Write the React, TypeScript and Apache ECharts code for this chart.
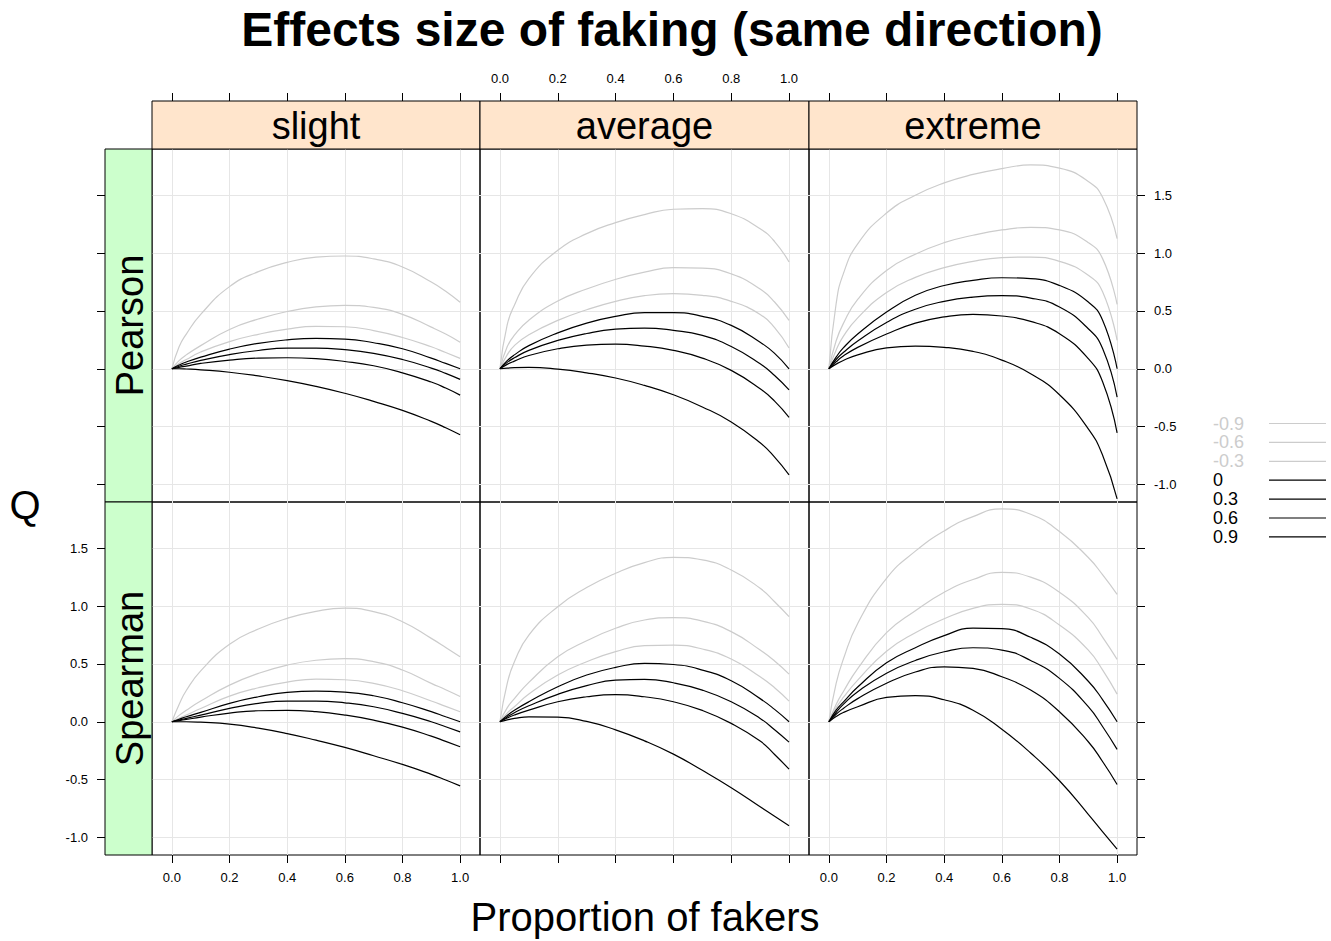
import React, { useEffect, useRef } from "react";
import * as echarts from "echarts";

// ---------------- data ----------------
const proportion = [0, 0.025, 0.05, 0.1, 0.2, 0.3, 0.4, 0.5, 0.6, 0.7, 0.8, 0.9, 0.95, 1];
const correlations = ["-0.9", "-0.6", "-0.3", "0", "0.3", "0.6", "0.9"];
const fakingLevels = ["slight", "average", "extreme"];
const methods = ["Pearson", "Spearman"];
const xTickValues = [0, 0.2, 0.4, 0.6, 0.8, 1.0];
const yTickValues = [-1.0, -0.5, 0, 0.5, 1.0, 1.5];

const pearsonSlight = [
  [0, 0.19, 0.3, 0.47, 0.71, 0.84, 0.92, 0.965, 0.975, 0.95, 0.88, 0.75, 0.67, 0.575],
  [0, 0.07, 0.12, 0.2, 0.34, 0.43, 0.495, 0.535, 0.548, 0.53, 0.47, 0.36, 0.3, 0.23],
  [0, 0.045, 0.08, 0.145, 0.235, 0.298, 0.343, 0.366, 0.363, 0.33, 0.27, 0.19, 0.14, 0.09],
  [0, 0.032, 0.058, 0.1, 0.17, 0.22, 0.25, 0.262, 0.257, 0.225, 0.173, 0.092, 0.046, 0],
  [0, 0.022, 0.04, 0.072, 0.122, 0.158, 0.178, 0.179, 0.165, 0.133, 0.08, 0.006, -0.04, -0.092],
  [0, 0.012, 0.023, 0.046, 0.075, 0.092, 0.095, 0.087, 0.063, 0.026, -0.035, -0.115, -0.167, -0.228],
  [0, 0, -0.002, -0.009, -0.03, -0.062, -0.102, -0.152, -0.212, -0.282, -0.36, -0.455, -0.51, -0.571],
];
const pearsonAverage = [
  [0, 0.38, 0.55, 0.78, 1.024, 1.168, 1.263, 1.333, 1.379, 1.385, 1.34, 1.21, 1.1, 0.923],
  [0, 0.19, 0.29, 0.42, 0.585, 0.69, 0.773, 0.835, 0.875, 0.87, 0.82, 0.69, 0.577, 0.418],
  [0, 0.12, 0.2, 0.294, 0.418, 0.51, 0.583, 0.632, 0.649, 0.635, 0.583, 0.47, 0.355, 0.18],
  [0, 0.07, 0.12, 0.2, 0.31, 0.395, 0.453, 0.485, 0.485, 0.453, 0.375, 0.23, 0.133, 0],
  [0, 0.055, 0.095, 0.159, 0.245, 0.305, 0.342, 0.352, 0.332, 0.288, 0.193, 0.043, -0.058, -0.182],
  [0, 0.038, 0.066, 0.115, 0.173, 0.205, 0.213, 0.196, 0.159, 0.092, -0.014, -0.173, -0.28, -0.42],
  [0, 0.005, 0.01, 0.012, -0.003, -0.035, -0.08, -0.144, -0.225, -0.33, -0.46, -0.64, -0.764, -0.917],
];
const pearsonExtreme = [
  [0, 0.56, 0.82, 1.08, 1.346, 1.5, 1.607, 1.68, 1.73, 1.762, 1.735, 1.62, 1.48, 1.125],
  [0, 0.24, 0.39, 0.6, 0.85, 0.99, 1.09, 1.154, 1.2, 1.223, 1.2, 1.09, 0.95, 0.557],
  [0, 0.16, 0.28, 0.44, 0.66, 0.79, 0.874, 0.929, 0.96, 0.966, 0.929, 0.808, 0.663, 0.245],
  [0, 0.1, 0.18, 0.3, 0.49, 0.635, 0.72, 0.764, 0.787, 0.779, 0.72, 0.577, 0.418, 0],
  [0, 0.08, 0.14, 0.24, 0.4, 0.515, 0.583, 0.62, 0.632, 0.611, 0.534, 0.346, 0.173, -0.245],
  [0, 0.06, 0.11, 0.185, 0.3, 0.395, 0.448, 0.47, 0.456, 0.41, 0.303, 0.087, -0.115, -0.554],
  [0, 0.04, 0.072, 0.12, 0.18, 0.195, 0.185, 0.15, 0.075, -0.043, -0.225, -0.519, -0.75, -1.125],
];
const spearmanSlight = [
  [0, 0.15, 0.27, 0.44, 0.67, 0.802, 0.894, 0.955, 0.982, 0.952, 0.865, 0.721, 0.643, 0.562],
  [0, 0.055, 0.1, 0.179, 0.317, 0.418, 0.49, 0.532, 0.545, 0.52, 0.447, 0.332, 0.277, 0.219],
  [0, 0.03, 0.058, 0.115, 0.222, 0.294, 0.343, 0.369, 0.363, 0.332, 0.268, 0.179, 0.133, 0.087],
  [0, 0.022, 0.043, 0.081, 0.159, 0.216, 0.254, 0.265, 0.257, 0.225, 0.164, 0.087, 0.043, 0],
  [0, 0.015, 0.029, 0.058, 0.115, 0.159, 0.179, 0.179, 0.164, 0.13, 0.072, 0, -0.043, -0.087],
  [0, 0.01, 0.02, 0.04, 0.075, 0.095, 0.098, 0.087, 0.058, 0.014, -0.046, -0.124, -0.17, -0.216],
  [0, 0, 0, -0.004, -0.02, -0.055, -0.102, -0.159, -0.222, -0.294, -0.369, -0.455, -0.503, -0.554],
];
const spearmanAverage = [
  [0, 0.33, 0.519, 0.75, 0.995, 1.16, 1.284, 1.376, 1.422, 1.4, 1.312, 1.154, 1.038, 0.909],
  [0, 0.12, 0.2, 0.34, 0.562, 0.7, 0.808, 0.88, 0.9, 0.87, 0.779, 0.62, 0.525, 0.412],
  [0, 0.075, 0.13, 0.24, 0.404, 0.519, 0.606, 0.658, 0.663, 0.629, 0.542, 0.389, 0.294, 0.179],
  [0, 0.055, 0.1, 0.173, 0.303, 0.404, 0.47, 0.505, 0.495, 0.447, 0.355, 0.2, 0.107, 0],
  [0, 0.042, 0.078, 0.138, 0.237, 0.312, 0.36, 0.366, 0.337, 0.274, 0.173, 0.029, -0.069, -0.176],
  [0, 0.032, 0.058, 0.1, 0.173, 0.216, 0.234, 0.216, 0.173, 0.098, -0.014, -0.167, -0.283, -0.41],
  [0, 0.016, 0.029, 0.043, 0.04, 0.003, -0.07, -0.165, -0.28, -0.42, -0.57, -0.735, -0.818, -0.9],
];
const spearmanExtreme = [
  [0, 0.33, 0.54, 0.85, 1.24, 1.475, 1.65, 1.774, 1.84, 1.794, 1.645, 1.42, 1.27, 1.102],
  [0, 0.15, 0.26, 0.46, 0.77, 0.96, 1.12, 1.23, 1.292, 1.25, 1.12, 0.9, 0.73, 0.539],
  [0, 0.12, 0.21, 0.36, 0.61, 0.77, 0.89, 0.98, 1.015, 0.975, 0.836, 0.62, 0.447, 0.239],
  [0, 0.1, 0.17, 0.3, 0.51, 0.64, 0.745, 0.81, 0.805, 0.73, 0.585, 0.35, 0.19, 0],
  [0, 0.08, 0.15, 0.26, 0.42, 0.53, 0.605, 0.64, 0.62, 0.53, 0.375, 0.13, -0.043, -0.239],
  [0, 0.065, 0.115, 0.2, 0.333, 0.43, 0.475, 0.461, 0.389, 0.274, 0.087, -0.173, -0.346, -0.542],
  [0, 0.045, 0.08, 0.13, 0.21, 0.226, 0.19, 0.1, -0.065, -0.27, -0.51, -0.8, -0.952, -1.102],
];

const panelData = [
  [pearsonSlight, pearsonAverage, pearsonExtreme],
  [spearmanSlight, spearmanAverage, spearmanExtreme],
];

// ---------------- layout ----------------
const FONT = "'Liberation Sans', Arial, Helvetica, sans-serif";
const COL_X = [152, 480, 809];
const COL_W = [328, 329, 328];
const ROW_Y = [149, 502];
const ROW_H = 353;
const STRIP_H = 48;
const STRIP_W = 47;
const X_MIN = -0.069;
const X_MAX = 1.069;
const Y_MIN = -1.152;
const Y_MAX = 1.9;
const GREY = "#cccccc";
const BLACK = "#000000";

const seriesColor = (name: string) => (name.startsWith("-") ? GREY : BLACK);

function buildOption() {
  const grids: any[] = [];
  const xAxes: any[] = [];
  const yAxes: any[] = [];
  const series: any[] = [];
  const graphics: any[] = [];

  methods.forEach((method, r) => {
    fakingLevels.forEach((level, c) => {
      const idx = r * 3 + c;
      grids.push({
        left: COL_X[c],
        top: ROW_Y[r],
        width: COL_W[c],
        height: ROW_H,
        show: true,
        borderColor: "#000",
        borderWidth: 1,
        backgroundColor: "transparent",
        containLabel: false,
      });
      xAxes.push({
        type: "value",
        gridIndex: idx,
        min: X_MIN,
        max: X_MAX,
        position: r === 0 ? "top" : "bottom",
        offset: r === 0 ? STRIP_H : 0,
        axisLine: { show: false, onZero: false },
        axisTick: {
          show: true,
          inside: false,
          length: 8,
          customValues: xTickValues,
          lineStyle: { color: "#000", width: 1 },
        },
        axisLabel: {
          show: (r === 0 && c === 1) || (r === 1 && c !== 1),
          customValues: xTickValues,
          formatter: (v: number) => v.toFixed(1),
          margin: 16,
          fontSize: 13,
          color: "#000",
          fontFamily: FONT,
        },
        splitLine: { show: true, lineStyle: { color: "#e6e6e6", width: 1 } },
      });
      yAxes.push({
        type: "value",
        gridIndex: idx,
        min: Y_MIN,
        max: Y_MAX,
        position: c === 2 ? "right" : "left",
        offset: c === 0 ? STRIP_W : 0,
        axisLine: { show: false, onZero: false },
        axisTick: {
          show: c !== 1,
          inside: false,
          length: 8,
          customValues: yTickValues,
          lineStyle: { color: "#000", width: 1 },
        },
        axisLabel: {
          show: (c === 0 && r === 1) || (c === 2 && r === 0),
          customValues: yTickValues,
          formatter: (v: number) => v.toFixed(1),
          margin: 17,
          fontSize: 13,
          color: "#000",
          fontFamily: FONT,
        },
        splitLine: { show: true, lineStyle: { color: "#e6e6e6", width: 1 } },
      });
      const curves = panelData[r][c];
      correlations.forEach((name, k) => {
        series.push({
          type: "line",
          name,
          xAxisIndex: idx,
          yAxisIndex: idx,
          data: proportion.map((x, i) => [x, curves[k][i]]),
          showSymbol: false,
          symbol: "none",
          smooth: 0.5,
          silent: true,
          lineStyle: { color: seriesColor(name), width: 1.2 },
          z: name.startsWith("-") ? 2 : 3,
        });
      });
    });
  });

  // top strips
  fakingLevels.forEach((level, c) => {
    graphics.push({
      type: "rect",
      shape: { x: COL_X[c], y: ROW_Y[0] - STRIP_H, width: COL_W[c], height: STRIP_H },
      style: { fill: "#ffe5cc", stroke: "#000", lineWidth: 1 },
      z: 10,
    });
    graphics.push({
      type: "text",
      x: COL_X[c] + COL_W[c] / 2,
      y: ROW_Y[0] - STRIP_H / 2 + 1,
      style: {
        text: level,
        fontSize: 38,
        fontFamily: FONT,
        fill: "#000",
        align: "center",
        verticalAlign: "middle",
      },
      z: 11,
    });
  });
  // left strips
  methods.forEach((method, r) => {
    graphics.push({
      type: "rect",
      shape: { x: COL_X[0] - STRIP_W, y: ROW_Y[r], width: STRIP_W, height: ROW_H },
      style: { fill: "#ccffcc", stroke: "#000", lineWidth: 1 },
      z: 10,
    });
    graphics.push({
      type: "text",
      x: COL_X[0] - STRIP_W / 2 + 1,
      y: ROW_Y[r] + ROW_H / 2,
      rotation: Math.PI / 2,
      style: {
        text: method,
        fontSize: 38,
        fontFamily: FONT,
        fill: "#000",
        align: "center",
        verticalAlign: "middle",
      },
      z: 11,
    });
  });
  // titles
  graphics.push({
    type: "text",
    x: 672,
    y: 29,
    style: {
      text: "Effects size of faking (same direction)",
      fontSize: 48,
      fontWeight: "bold",
      fontFamily: FONT,
      fill: "#000",
      align: "center",
      verticalAlign: "middle",
    },
  });
  graphics.push({
    type: "text",
    x: 645,
    y: 917,
    style: {
      text: "Proportion of fakers",
      fontSize: 40,
      fontFamily: FONT,
      fill: "#000",
      align: "center",
      verticalAlign: "middle",
    },
  });
  graphics.push({
    type: "text",
    x: 25,
    y: 505,
    style: {
      text: "Q",
      fontSize: 40,
      fontFamily: FONT,
      fill: "#000",
      align: "center",
      verticalAlign: "middle",
    },
  });
  // legend
  correlations.forEach((name, i) => {
    const y = 423.5 + i * 18.9;
    graphics.push({
      type: "text",
      x: 1213,
      y,
      style: {
        text: name,
        fontSize: 18,
        fontFamily: FONT,
        fill: seriesColor(name),
        align: "left",
        verticalAlign: "middle",
      },
    });
    graphics.push({
      type: "line",
      shape: { x1: 1269, y1: y, x2: 1326, y2: y },
      style: { stroke: seriesColor(name), lineWidth: 1.2 },
    });
  });

  return {
    animation: false,
    backgroundColor: "#ffffff",
    textStyle: { fontFamily: FONT },
    grid: grids,
    xAxis: xAxes,
    yAxis: yAxes,
    series,
    graphic: graphics,
  };
}

export default function App() {
  const ref = useRef<HTMLDivElement>(null);
  useEffect(() => {
    if (!ref.current) return;
    const chart = echarts.init(ref.current, undefined, { renderer: "svg" });
    chart.setOption(buildOption() as any);
    return () => chart.dispose();
  }, []);
  return (
    <div
      ref={ref}
      style={{ position: "absolute", left: 0, top: 0, width: 1331, height: 941, background: "#fff" }}
    />
  );
}
